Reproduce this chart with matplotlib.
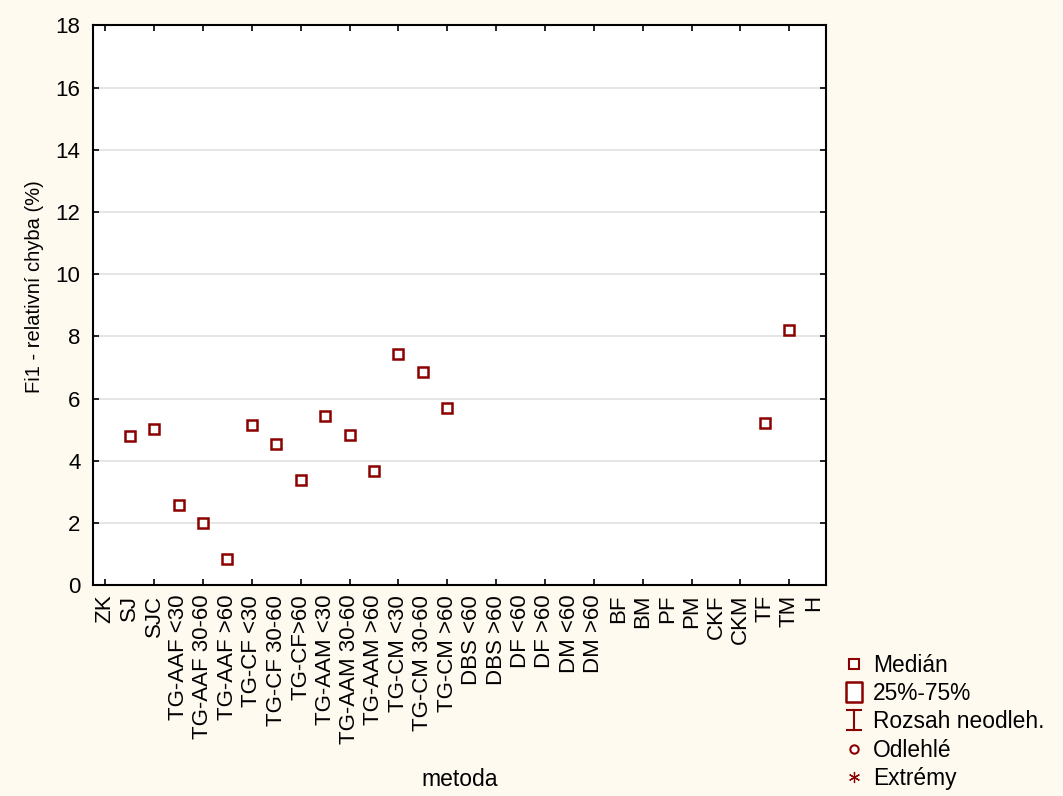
import matplotlib
matplotlib.use("Agg")
import matplotlib.pyplot as plt
import numpy as np
from matplotlib.lines import Line2D
from matplotlib.path import Path

plt.rcParams['font.family'] = ['Liberation Sans', 'DejaVu Sans']

# categories on the x axis
methods = ["ZK", "SJ", "SJC", "TG-AAF <30", "TG-AAF 30-60", "TG-AAF >60",
           "TG-CF <30", "TG-CF 30-60", "TG-CF>60", "TG-AAM <30", "TG-AAM 30-60",
           "TG-AAM >60", "TG-CM <30", "TG-CM 30-60", "TG-CM >60", "DBS <60",
           "DBS >60", "DF <60", "DF >60", "DM <60", "DM >60", "BF", "BM", "PF",
           "PM", "CKF", "CKM", "TF", "TM", "H"]

# medians (NaN = no data for that method)
median = [np.nan, 4.78, 5.02, 2.59, 2.01, 0.83,
          5.14, 4.55, 3.38, 5.43, 4.84,
          3.67, 7.44, 6.86, 5.68, np.nan,
          np.nan, np.nan, np.nan, np.nan, np.nan, np.nan, np.nan, np.nan,
          np.nan, np.nan, np.nan, 5.22, 8.21, np.nan]

yticks = [0, 2, 4, 6, 8, 10, 12, 14, 16, 18]

red = '#8B0000'
bg = '#FFFAF0'
fs = 16

fig = plt.figure(figsize=(10.63, 7.96), dpi=100, facecolor=bg)
ax = fig.add_axes([0.0875, 0.265, 0.6895, 0.703])
ax.set_facecolor('white')

x = np.arange(len(methods))
ax.plot(x, median, linestyle='none', marker='s', markersize=7.8,
        markerfacecolor='white', markeredgecolor=red, markeredgewidth=1.8,
        zorder=3)

ax.set_xlim(-0.5, len(methods) - 0.5)
ax.set_ylim(0, 18)
ax.set_yticks(yticks)
ax.set_xticks(x)
ax.set_xticklabels(methods, rotation=90, fontsize=fs)
ax.tick_params(axis='y', labelsize=fs, pad=9)
ax.tick_params(direction='in', length=4, width=1.2, top=True, right=True)
ax.tick_params(axis='x', pad=7)
for i, t in enumerate(ax.xaxis.get_major_ticks()):
    if i % 2:
        t.tick1line.set_visible(False)
        t.tick2line.set_visible(False)

ax.grid(axis='y', color='#E0E0E0', linewidth=1.2)
ax.set_axisbelow(True)
for s in ax.spines.values():
    s.set_linewidth(1.5)

ax.set_ylabel("Fi1 - relativní chyba (%)", fontsize=14.5)
ax.yaxis.set_label_coords(-0.067, 0.533)
ax.set_xlabel("metoda", fontsize=16.5, labelpad=17)

# legend (Statistica-style box plot key)
ibeam = Path([(-0.8, 1), (0.8, 1), (0, 1), (0, -1), (-0.8, -1), (0.8, -1)],
             [Path.MOVETO, Path.LINETO, Path.MOVETO, Path.LINETO,
              Path.MOVETO, Path.LINETO])
rect = Path([(-0.8, -1), (0.8, -1), (0.8, 1), (-0.8, 1), (-0.8, -1)],
            [Path.MOVETO, Path.LINETO, Path.LINETO, Path.LINETO, Path.CLOSEPOLY])
handles = [
    Line2D([], [], linestyle='none', marker='s', markersize=6.5,
           markerfacecolor='white', markeredgecolor=red, markeredgewidth=1.5),
    Line2D([], [], linestyle='none', marker=rect, markersize=15,
           markerfacecolor='white', markeredgecolor=red, markeredgewidth=1.8),
    Line2D([], [], linestyle='none', marker=ibeam, markersize=15,
           markerfacecolor='none', markeredgecolor=red, markeredgewidth=1.5),
    Line2D([], [], linestyle='none', marker='o', markersize=6,
           markerfacecolor='white', markeredgecolor=red, markeredgewidth=1.5),
    Line2D([], [], linestyle='none', marker=(6, 2, 0), markersize=8,
           markeredgecolor=red, markeredgewidth=0.9),
]
labels = ["Medián", "25%-75%", "Rozsah neodleh.", "Odlehlé", "Extrémy"]
fig.legend(handles, labels, loc='upper left', bbox_to_anchor=(0.784, 0.19),
           frameon=False, fontsize=16.4, handlelength=1.0, handletextpad=0.35,
           labelspacing=0.23, borderaxespad=0)

fig.savefig("out.png", dpi=100, facecolor=bg)
